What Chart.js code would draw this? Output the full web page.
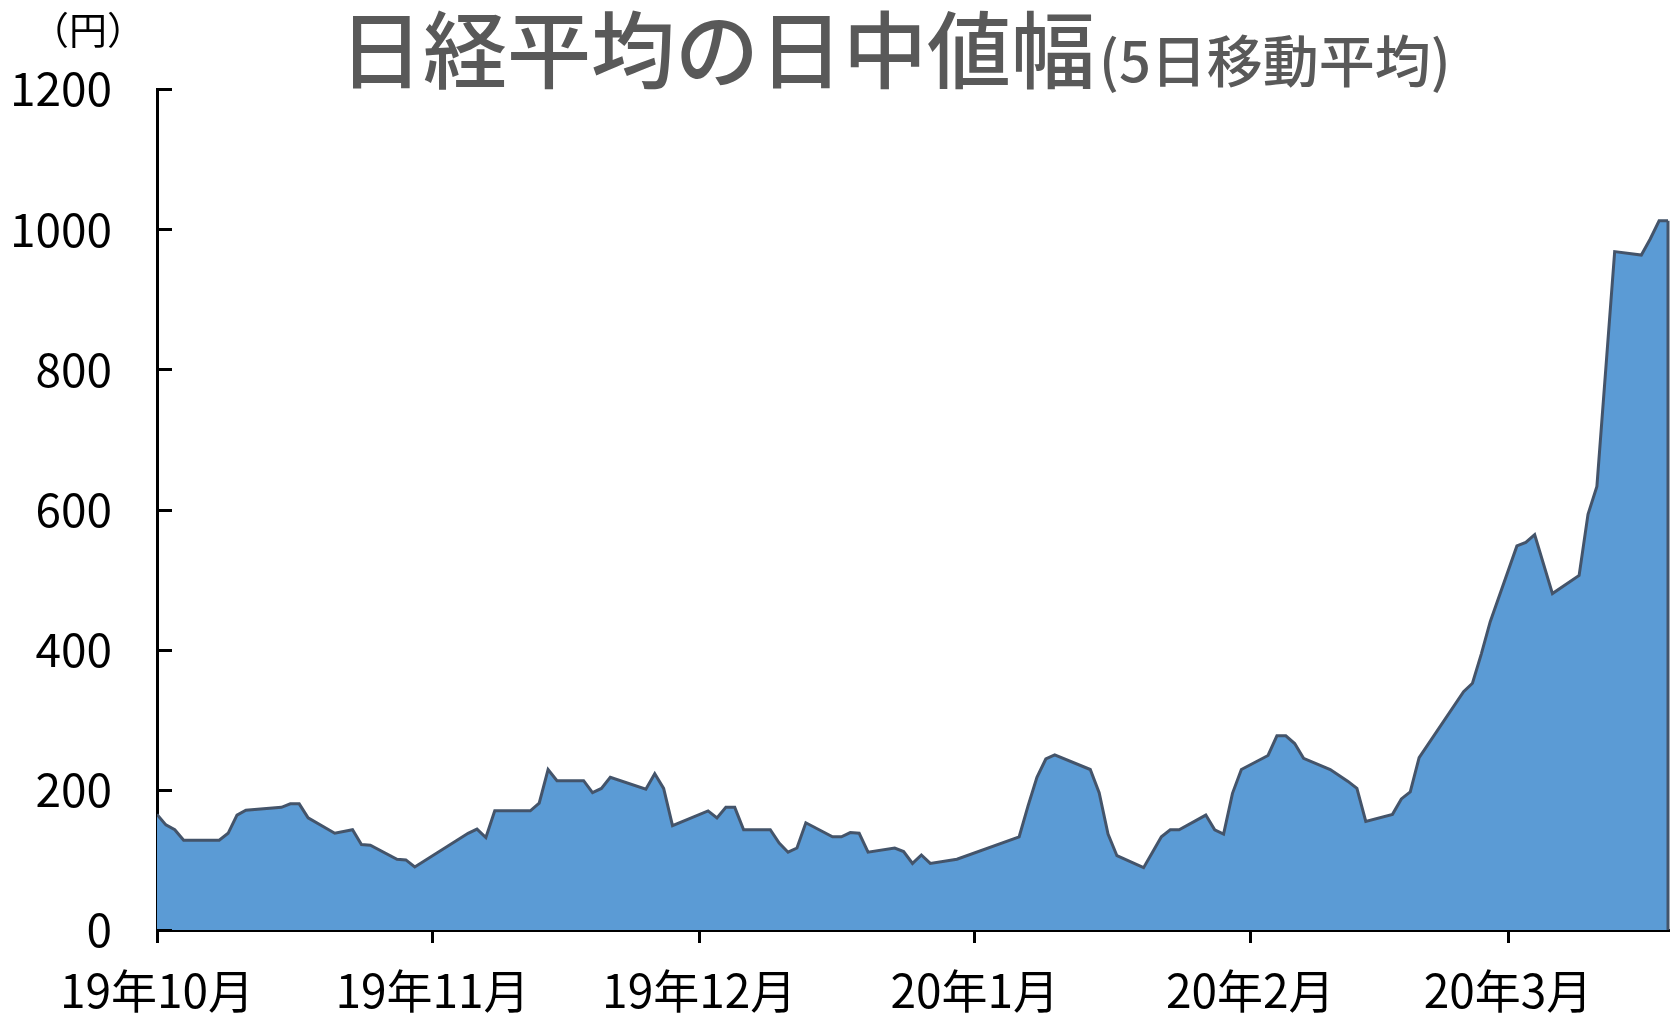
<!DOCTYPE html>
<html>
<head>
<meta charset="utf-8">
<script src="https://cdn.jsdelivr.net/npm/chart.js@4"></script>
<style>
html, body { margin: 0; padding: 0; background: #fff; }
#wrap { width: 1676px; height: 1023px; position: relative; }
</style>
</head>
<body>
<div id="wrap"><canvas id="chart"></canvas></div>
<script>
// 日経平均の日中値幅 (5日移動平均), 円
const dates = [
  '2019-10-01', '2019-10-02', '2019-10-03', '2019-10-04', '2019-10-07', '2019-10-08', '2019-10-09',
  '2019-10-10', '2019-10-11', '2019-10-15', '2019-10-16', '2019-10-17', '2019-10-18', '2019-10-21',
  '2019-10-23', '2019-10-24', '2019-10-25', '2019-10-28', '2019-10-29', '2019-10-30',
  '2019-11-05', '2019-11-06', '2019-11-07', '2019-11-08', '2019-11-12', '2019-11-13', '2019-11-14',
  '2019-11-15', '2019-11-18', '2019-11-19', '2019-11-20', '2019-11-21', '2019-11-25', '2019-11-26',
  '2019-11-27', '2019-11-28',
  '2019-12-02', '2019-12-03', '2019-12-04', '2019-12-05', '2019-12-06', '2019-12-09', '2019-12-10',
  '2019-12-11', '2019-12-12', '2019-12-13', '2019-12-16', '2019-12-17', '2019-12-18', '2019-12-19',
  '2019-12-20', '2019-12-23', '2019-12-24', '2019-12-25', '2019-12-26', '2019-12-27', '2019-12-30',
  '2020-01-06', '2020-01-07', '2020-01-08', '2020-01-09', '2020-01-10', '2020-01-14', '2020-01-15',
  '2020-01-16', '2020-01-17', '2020-01-20', '2020-01-21', '2020-01-22', '2020-01-23', '2020-01-24',
  '2020-01-27', '2020-01-28', '2020-01-29', '2020-01-30', '2020-01-31',
  '2020-02-03', '2020-02-04', '2020-02-05', '2020-02-06', '2020-02-07', '2020-02-10', '2020-02-12',
  '2020-02-13', '2020-02-14', '2020-02-17', '2020-02-18', '2020-02-19', '2020-02-20', '2020-02-25',
  '2020-02-26', '2020-02-27', '2020-02-28',
  '2020-03-02', '2020-03-03', '2020-03-04', '2020-03-06', '2020-03-09', '2020-03-10', '2020-03-11',
  '2020-03-13', '2020-03-16', '2020-03-17', '2020-03-18', '2020-03-19'
];
const values = [
  165, 150, 143, 128, 128, 128, 138,
  164, 171, 175, 180, 180, 160, 138,
  143, 122, 121, 101, 100, 90,
  138, 144, 132, 170, 170, 181, 229,
  213, 213, 196, 202, 218, 201, 223,
  202, 149,
  170, 160, 175, 175, 143, 143, 124,
  111, 117, 153, 133, 133, 139, 138,
  111, 117, 112, 95, 107, 95, 101,
  133, 177, 218, 244, 250, 229, 196,
  137, 106, 89, 111, 133, 143, 143,
  164, 143, 137, 195, 229,
  249, 277, 277, 266, 245, 229, 212,
  202, 155, 165, 187, 197, 246, 340,
  352, 394, 440,
  548, 553, 564, 480, 506, 593, 633,
  968, 963, 986, 1012, 1012
];
const monthTicks = ['2019-10-01', '2019-11-01', '2019-12-01', '2020-01-01', '2020-02-01', '2020-03-01'];
const monthLabels = ['19年10月', '19年11月', '19年12月', '20年1月', '20年2月', '20年3月'];
const yTicks = [0, 200, 400, 600, 800, 1000, 1200];

const FONT = "'Noto Sans CJK JP', 'Noto Sans', sans-serif";
const start = Date.UTC(2019, 9, 1);
function dayOf(s) {
  const p = s.split('-');
  return (Date.UTC(+p[0], +p[1] - 1, +p[2]) - start) / 86400000;
}

const points = dates.map((d, i) => ({ x: dayOf(d), y: values[i] }));

// title, unit label, inner y ticks and the right edge of the area
const decor = {
  id: 'decor',
  afterDatasetsDraw(chart) {
    const ctx = chart.ctx;
    const area = chart.chartArea;
    const meta = chart.getDatasetMeta(0);
    const last = meta.data[meta.data.length - 1];
    ctx.save();
    ctx.strokeStyle = '#44546A';
    ctx.lineWidth = 3;
    ctx.beginPath();
    ctx.moveTo(last.x, last.y);
    ctx.lineTo(last.x, area.bottom);
    ctx.stroke();
    ctx.restore();
  },
  afterDraw(chart) {
    const ctx = chart.ctx;
    const area = chart.chartArea;
    const ys = chart.scales.y;
    ctx.save();
    ctx.strokeStyle = '#000';
    ctx.lineWidth = 3;
    yTicks.forEach(v => {
      const y = Math.round(ys.getPixelForValue(v)) + 0.5;
      ctx.beginPath();
      ctx.moveTo(area.left, y);
      ctx.lineTo(area.left + 15, y);
      ctx.stroke();
    });

    ctx.fillStyle = '#595959';
    ctx.textBaseline = 'alphabetic';
    ctx.textAlign = 'left';
    ctx.font = '500 84px ' + FONT;
    const t1 = '日経平均の日中値幅';
    ctx.fillText(t1, 339, 82);
    const w1 = ctx.measureText(t1).width;
    ctx.font = '500 56px ' + FONT;
    ctx.fillText('(5日移動平均)', 339 + w1 + 4, 82);

    ctx.fillStyle = '#000';
    ctx.font = '38px ' + FONT;
    ctx.textAlign = 'center';
    ctx.textBaseline = 'middle';
    ctx.fillText('（円）', 88, 30);
    ctx.restore();
  }
};

new Chart(document.getElementById('chart'), {
  type: 'line',
  data: {
    datasets: [{
      data: points,
      borderColor: '#44546A',
      borderWidth: 3,
      backgroundColor: '#5B9BD5',
      fill: 'origin',
      pointRadius: 0,
      tension: 0
    }]
  },
  options: {
    responsive: true,
    maintainAspectRatio: false,
    animation: false,
    layout: { padding: { top: 89, right: 8, left: 0, bottom: 0 } },
    plugins: {
      legend: { display: false },
      tooltip: { enabled: false }
    },
    scales: {
      x: {
        type: 'linear',
        min: 0,
        max: dayOf(dates[dates.length - 1]),
        z: 1,
        afterBuildTicks: s => { s.ticks = monthTicks.map(d => ({ value: dayOf(d) })); },
        afterFit: s => { s.height = 93; },
        ticks: {
          autoSkip: false,
          maxRotation: 0,
          padding: 20,
          color: '#000',
          font: { family: FONT, size: 46 },
          callback: v => monthLabels[monthTicks.map(dayOf).indexOf(v)]
        },
        grid: { drawOnChartArea: false, drawTicks: true, tickLength: 13, color: '#000', lineWidth: 3 },
        border: { color: '#000', width: 3 }
      },
      y: {
        min: 0,
        max: 1200,
        z: 1,
        afterBuildTicks: s => { s.ticks = yTicks.map(v => ({ value: v })); },
        afterFit: s => { s.width = 157; },
        ticks: {
          padding: 45,
          color: '#000',
          font: { family: FONT, size: 46 },
          callback: v => String(v)
        },
        grid: { drawOnChartArea: false, drawTicks: false },
        border: { color: '#000', width: 3 }
      }
    }
  },
  plugins: [decor]
});
</script>
</body>
</html>
